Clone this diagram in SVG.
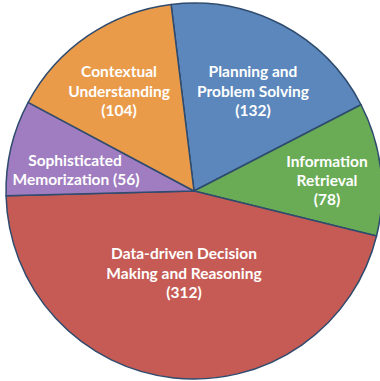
<svg xmlns="http://www.w3.org/2000/svg" width="380" height="381" viewBox="0 0 380 381">
<style>
.s{stroke:#2F4B6E;stroke-width:1.5;stroke-linejoin:round}
.t{font-family:Lato,"Open Sans","Liberation Sans",sans-serif;font-weight:bold;font-size:15.5px;fill:#ffffff;text-anchor:middle}
</style>
<rect width="380" height="381" fill="#ffffff"/>
<g id="planning">
<path class="s" fill="#5B87BD" d="M194,191 L171.09,4.40 A188,188 0 0 1 361.03,104.72 Z"/>
<text class="t"><tspan x="253" y="77">Planning and</tspan><tspan x="253" y="97">Problem Solving</tspan><tspan x="253" y="116">(132)</tspan></text>
</g>
<g id="information">
<path class="s" fill="#69AC55" d="M194,191 L361.03,104.72 A188,188 0 0 1 376.53,236.01 Z"/>
<text class="t"><tspan x="327" y="167">Information</tspan><tspan x="327" y="186">Retrieval</tspan><tspan x="327" y="205">(78)</tspan></text>
</g>
<g id="datadriven">
<path class="s" fill="#C65B55" d="M194,191 L376.53,236.01 A188,188 0 0 1 6.06,195.78 Z"/>
<text class="t"><tspan x="184" y="259">Data-driven Decision</tspan><tspan x="184" y="279">Making and Reasoning</tspan><tspan x="184" y="298">(312)</tspan></text>
</g>
<g id="memorization">
<path class="s" fill="#A07DC0" d="M194,191 L6.06,195.78 A188,188 0 0 1 28.16,102.45 Z"/>
<text class="t"><tspan x="75" y="166">Sophisticated</tspan><tspan x="76" y="185">Memorization (56)</tspan></text>
</g>
<g id="contextual">
<path class="s" fill="#E99B4A" d="M194,191 L28.16,102.45 A188,188 0 0 1 171.09,4.40 Z"/>
<text class="t"><tspan x="119" y="77">Contextual</tspan><tspan x="119" y="97">Understanding</tspan><tspan x="119" y="116">(104)</tspan></text>
</g>
<g id="connectors"></g>
</svg>
